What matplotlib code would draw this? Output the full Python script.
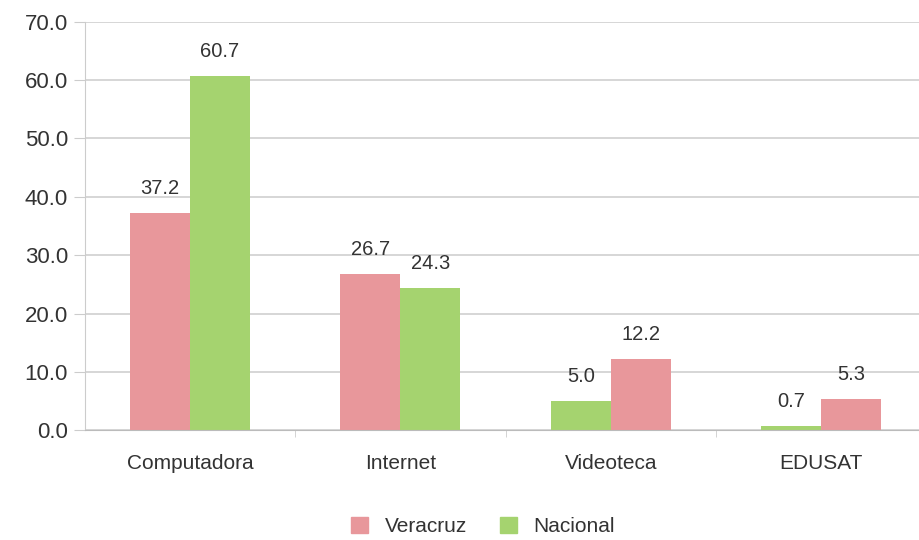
import matplotlib.pyplot as plt
import numpy as np

plt.rcParams['font.family'] = ['Liberation Sans', 'DejaVu Sans']

categorias = ["Computadora", "Internet", "Videoteca", "EDUSAT"]
# left bar / right bar of each group, as drawn in the original
izq_valores = [37.2, 26.7, 5.0, 0.7]
der_valores = [60.7, 24.3, 12.2, 5.3]
izq_serie = ["Veracruz", "Veracruz", "Nacional", "Nacional"]
der_serie = ["Nacional", "Nacional", "Veracruz", "Veracruz"]

colores = {"Veracruz": "#E8979B", "Nacional": "#A5D36F"}

fig = plt.figure(figsize=(9.2, 5.4), dpi=100)
ax = fig.add_axes([0.092, 0.203, 0.915, 0.757])

x = np.arange(len(categorias))
w = 0.285
b1 = ax.bar(x - w / 2, izq_valores, w, color=[colores[s] for s in izq_serie])
b2 = ax.bar(x + w / 2, der_valores, w, color=[colores[s] for s in der_serie])

for bars, vals in ((b1, izq_valores), (b2, der_valores)):
    for r, v in zip(bars, vals):
        ax.text(r.get_x() + r.get_width() / 2, v + 2.6, f"{v:.1f}",
                ha="center", va="bottom", fontsize=14.5, color="#333333")

ax.set_ylim(0, 70)
ax.set_xlim(-0.5, 3.5)
ax.set_yticks(np.arange(0, 71, 10))
ax.set_yticklabels([f"{t:.1f}" for t in np.arange(0, 71, 10)])
ax.set_xticks(x)
ax.set_xticklabels(categorias)
ax.set_xticks(np.arange(0.5, 3.5, 1), minor=True)
ax.tick_params(axis="x", which="major", length=0, pad=17, labelsize=15, labelcolor="#333333")
ax.tick_params(axis="x", which="minor", length=5, color="#cccccc")
ax.tick_params(axis="y", length=8, color="#cccccc", labelsize=16, labelcolor="#333333", pad=4)

ax.grid(axis="y", color="#cfcfcf", linewidth=1.2)
ax.set_axisbelow(True)
for s in ("top", "right"):
    ax.spines[s].set_visible(False)
ax.spines["left"].set_color("#cccccc")
ax.spines["bottom"].set_color("#bbbbbb")

handles = [plt.Rectangle((0, 0), 1, 1, color=colores["Veracruz"]),
           plt.Rectangle((0, 0), 1, 1, color=colores["Nacional"])]
fig.legend(handles, ["Veracruz", "Nacional"], loc="center", bbox_to_anchor=(0.525, 0.025),
           ncol=2, frameon=False, fontsize=15, handlelength=0.8, handleheight=0.8,
           columnspacing=1.6, labelcolor="#333333")

fig.savefig("out.png", dpi=100)
